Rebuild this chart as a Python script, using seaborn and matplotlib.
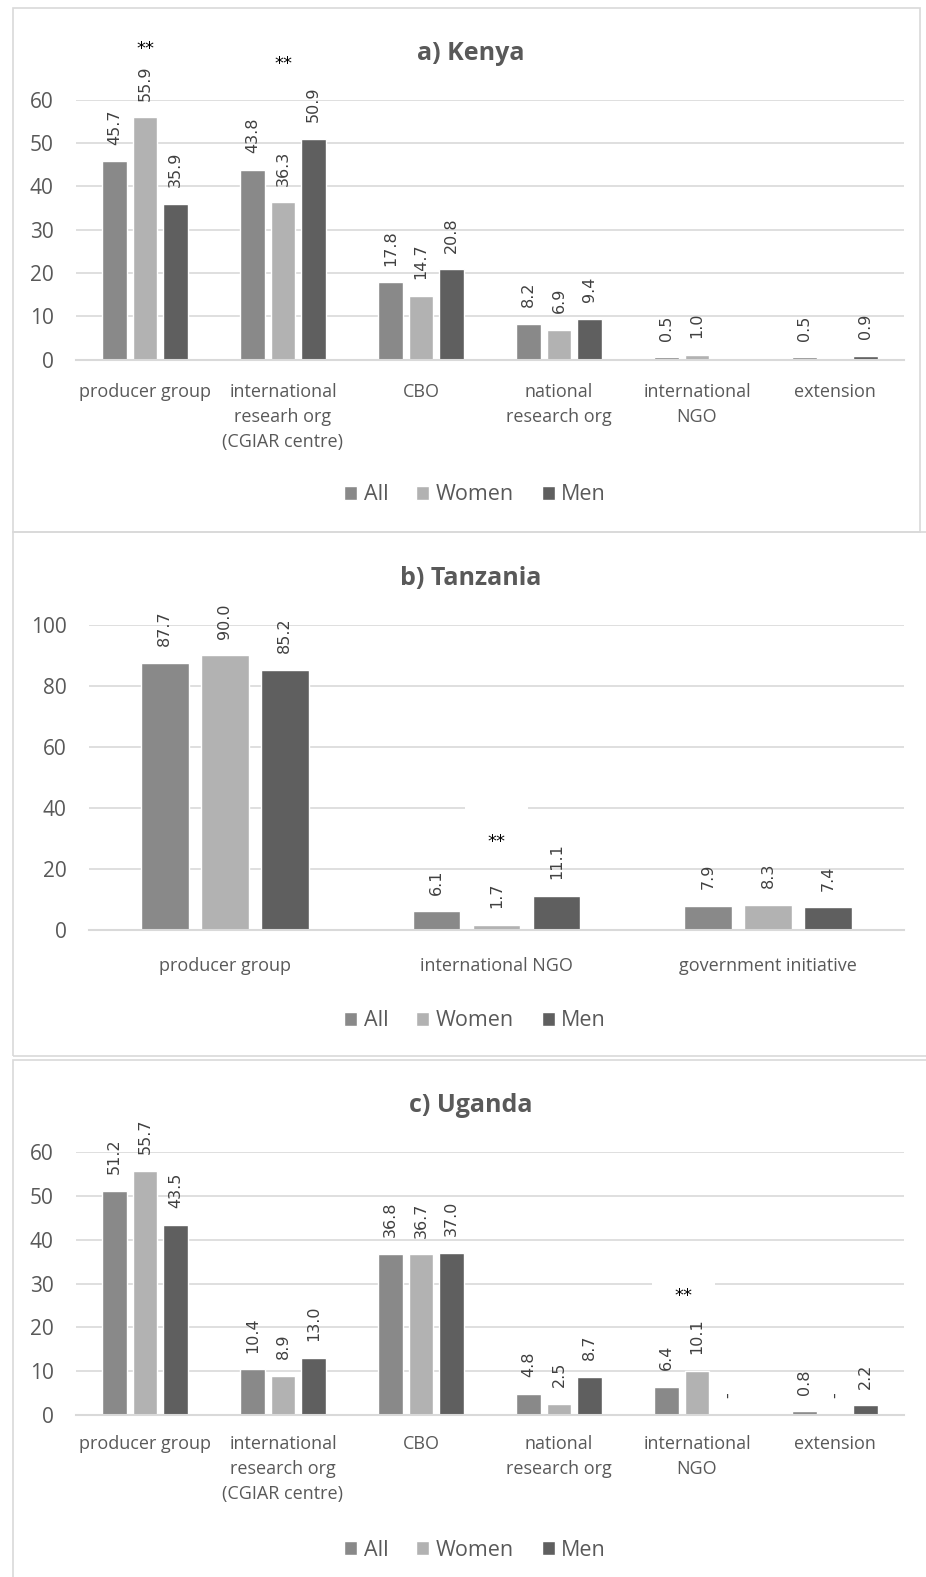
import numpy as np
import pandas as pd
import matplotlib
matplotlib.use("Agg")
import matplotlib.pyplot as plt
import matplotlib.transforms as mtransforms
from matplotlib.patches import Rectangle
import seaborn as sns

# ---- data -------------------------------------------------------------
groups = ["All", "Women", "Men"]
palette = ["#898989", "#b2b2b2", "#5f5f5f"]

kenya_orgs = ["producer group", "international\nresearh org\n(CGIAR centre)", "CBO",
              "national\nresearch org", "international\nNGO", "extension"]
kenya_all = [45.7, 43.8, 17.8, 8.2, 0.5, 0.5]
kenya_women = [55.9, 36.3, 14.7, 6.9, 1.0, np.nan]
kenya_men = [35.9, 50.9, 20.8, 9.4, np.nan, 0.9]
kenya_stars = [(0, 71.6), (1, 68.2)]

tanzania_orgs = ["producer group", "international NGO", "government initiative"]
tanzania_all = [87.7, 6.1, 7.9]
tanzania_women = [90.0, 1.7, 8.3]
tanzania_men = [85.2, 11.1, 7.4]
tanzania_stars = [(1, 28.9)]

uganda_orgs = ["producer group", "international\nresearch org\n(CGIAR centre)", "CBO",
               "national\nresearch org", "international\nNGO", "extension"]
uganda_all = [51.2, 10.4, 36.8, 4.8, 6.4, 0.8]
uganda_women = [55.7, 8.9, 36.7, 2.5, 10.1, 0.0]
uganda_men = [43.5, 13.0, 37.0, 8.7, 0.0, 2.2]
uganda_stars = [(3.9, 27.2)]

# ---- figure -----------------------------------------------------------
sns.set_theme(style="white")
plt.rcParams["font.family"] = ["Open Sans", "DejaVu Sans"]

W, H = 926, 1577
fig = plt.figure(figsize=(W / 100, H / 100), dpi=100)
TEXT = "#595959"
GRID = "#d9d9d9"


def px_axes(l, t, r, b):
    return fig.add_axes([l / W, 1 - b / H, (r - l) / W, (b - t) / H])


def frame(l, t, r, b):
    fig.add_artist(Rectangle((l / W, 1 - b / H), (r - l) / W, (b - t) / H,
                             transform=fig.transFigure, fill=False,
                             ec=GRID, lw=1.2, zorder=0))


def label_fmt(v):
    return "-" if v == 0 else f"{v:.1f}"


def draw_panel(ax, orgs, all_, women, men, ymax, ystep, title, title_y,
               legend_y, stars, xpad):
    df = pd.DataFrame({
        "org": orgs * 3,
        "group": np.repeat(groups, len(orgs)),
        "pct": list(all_) + list(women) + list(men),
    }).dropna()
    sns.barplot(data=df, x="org", y="pct", hue="group", order=orgs,
                hue_order=groups, palette=palette, saturation=1,
                width=0.663, gap=0.21, errorbar=None, ax=ax)

    for cont in ax.containers:
        ax.bar_label(cont, fmt=label_fmt, rotation=90, padding=12,
                     fontsize=11.5, color="#404040", family="DejaVu Sans",
                     zorder=4)

    ax.set_ylim(0, ymax)
    ax.set_yticks(np.arange(0, ymax + 1, ystep))
    ax.yaxis.grid(True, color=GRID, lw=1.2)
    ax.set_axisbelow(True)
    for side in ["left", "right", "top"]:
        ax.spines[side].set_visible(False)
    ax.spines["bottom"].set_color(GRID)
    ax.spines["bottom"].set_linewidth(1.5)
    ax.tick_params(axis="y", length=0, pad=16, labelsize=15, labelcolor=TEXT)
    ax.tick_params(axis="x", length=0, pad=xpad, labelsize=13, labelcolor=TEXT)
    for lbl in ax.get_xticklabels():
        lbl.set_linespacing(1.5)
    ax.set_xlabel("")
    ax.set_ylabel("")

    # significance markers on a small white box
    for sx, sy in stars:
        trans = fig.dpi_scale_trans + mtransforms.ScaledTranslation(sx, sy, ax.transData)
        ax.add_patch(Rectangle((-0.315, -0.22), 0.63, 0.60, transform=trans,
                               fc="white", ec="none", zorder=2.5, clip_on=False))
        ax.text(sx, sy, "**", ha="center", va="center", fontsize=13,
                family="DejaVu Sans", color="black", zorder=5, clip_on=False)

    handles, labels = ax.get_legend_handles_labels()
    if ax.get_legend() is not None:
        ax.get_legend().remove()
    fig.legend(handles, labels, loc="center", bbox_to_anchor=(475 / W, 1 - legend_y / H),
               ncol=3, frameon=False, fontsize=15.5, handlelength=0.6,
               handleheight=0.6, handletextpad=0.3, columnspacing=1.3,
               labelcolor=TEXT)

    fig.text(471 / W, 1 - title_y / H, title, ha="center", va="center",
             fontsize=18, fontweight="bold", color=TEXT)


# panel frames
frame(12.7, 8.3, 920, 531.7)
frame(12.7, 531.7, 930, 1055.7)
frame(12.7, 1060, 930, 1590)

ax_a = px_axes(76, 99.5, 904, 359.5)
draw_panel(ax_a, kenya_orgs, kenya_all, kenya_women, kenya_men, 60, 10,
           "a) Kenya", 53, 495, kenya_stars, 17)

ax_b = px_axes(89, 625, 904, 930)
draw_panel(ax_b, tanzania_orgs, tanzania_all, tanzania_women, tanzania_men, 100, 20,
           "b) Tanzania", 579, 1021, tanzania_stars, 19.7)

ax_c = px_axes(76, 1152.3, 904, 1415)
draw_panel(ax_c, uganda_orgs, uganda_all, uganda_women, uganda_men, 60, 10,
           "c) Uganda", 1105, 1550, uganda_stars, 14.6)

fig.savefig("out.png", dpi=100, facecolor="white")
